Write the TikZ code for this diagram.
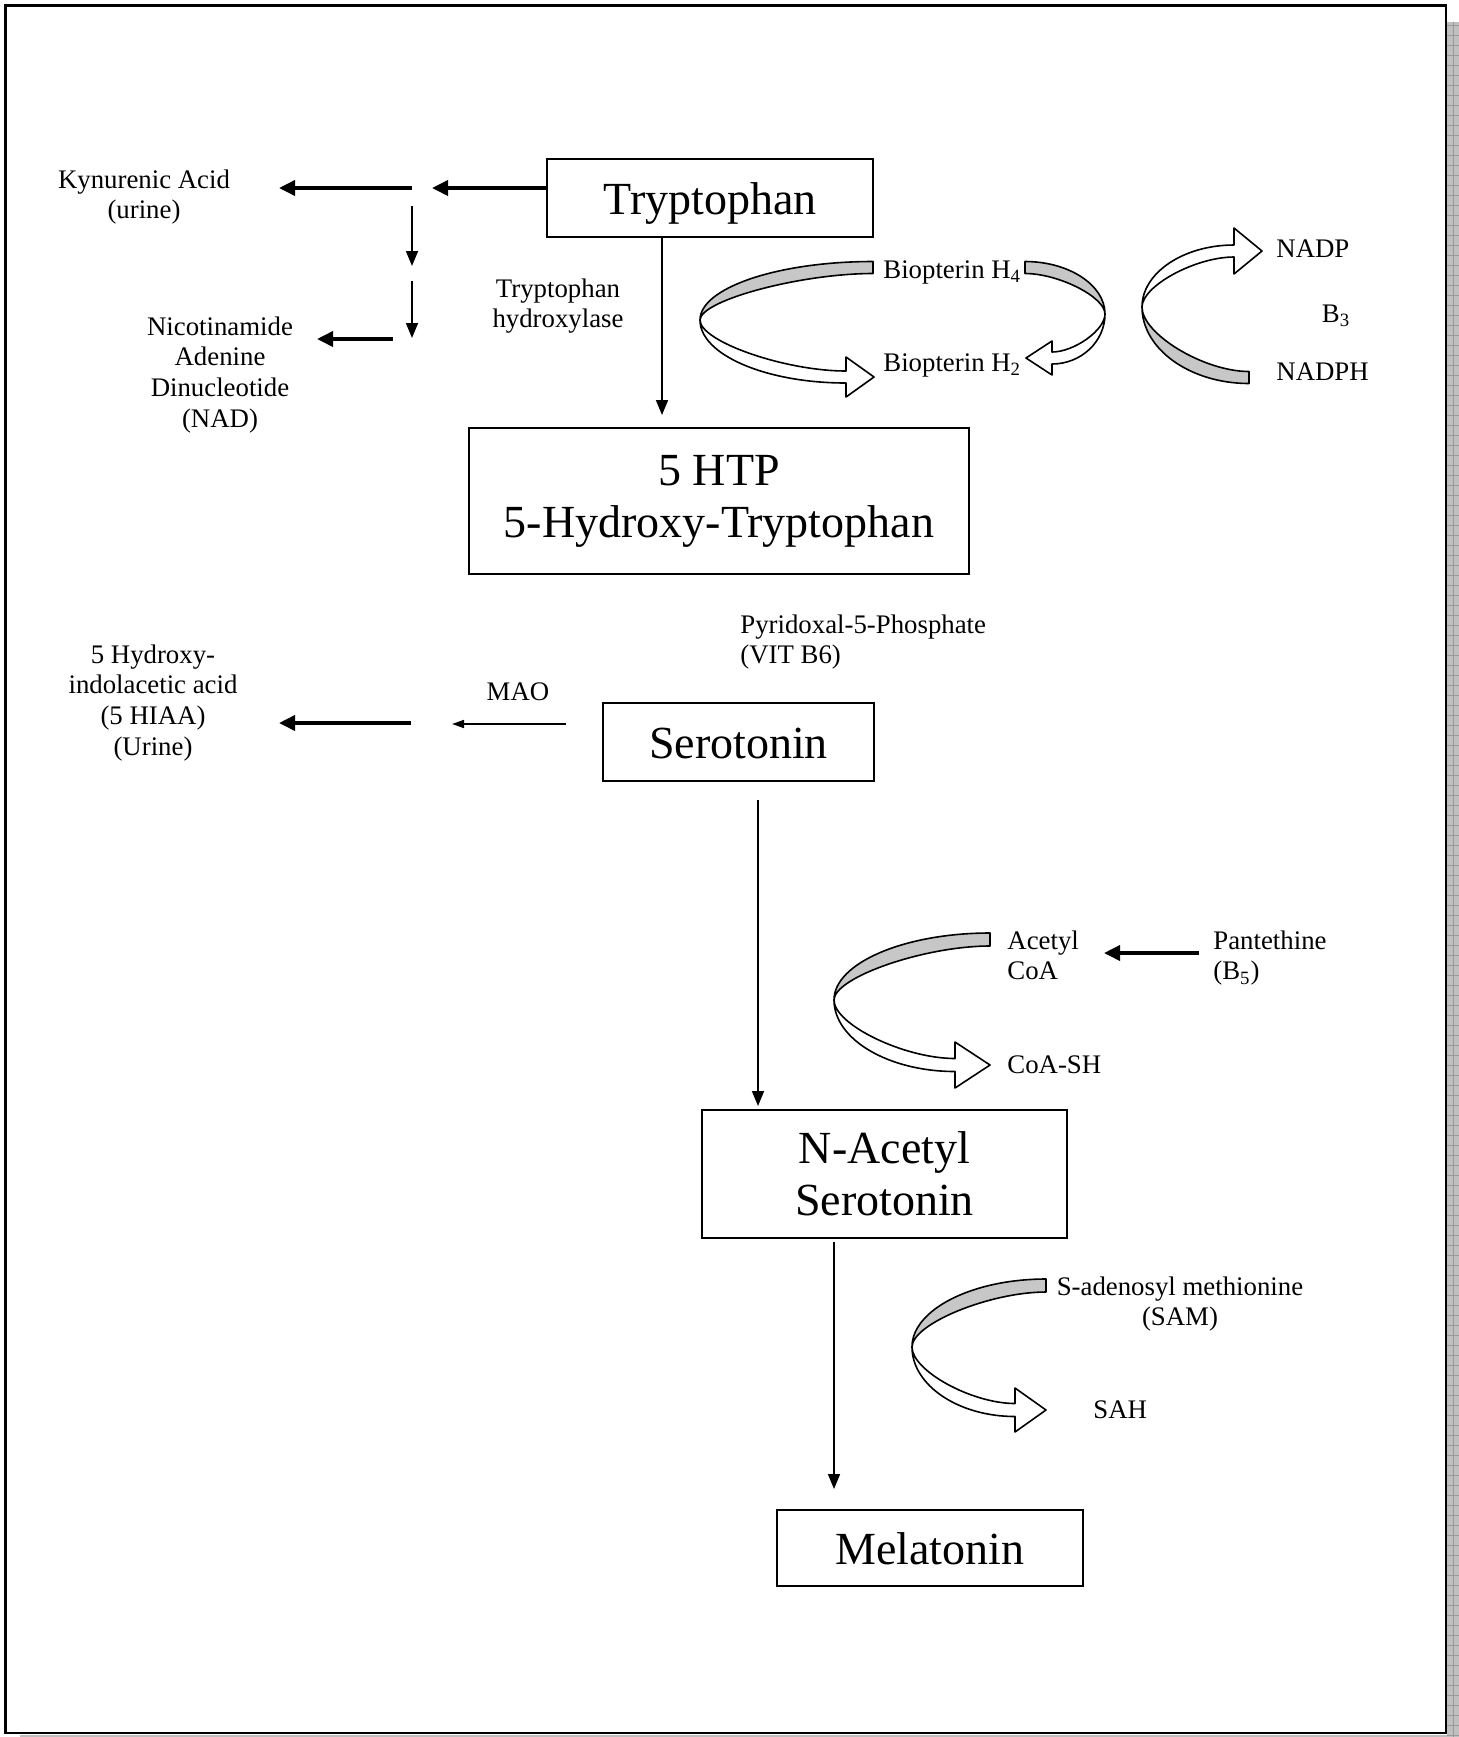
\documentclass[tikz,border=0pt]{standalone}
\usepackage{fontspec}
\setmainfont{Liberation Serif}
\usetikzlibrary{arrows.meta}
\newcommand\smallf{\fontsize{13.4pt}{15.4pt}\selectfont}
\newcommand\bigf{\fontsize{23pt}{26pt}\selectfont}
% curved ribbon arrow: #1 xs, #2 yg, #3 w, #4 xl, #5 ym, #6 xb, #7 ya, #8 xt, #9 h
\newcommand\ribbon[9]{%
  \pgfmathsetmacro\ribS{sign(#5-#2)}%
  \pgfmathsetmacro\ribT{sign(#7-#5)}%
  \pgfmathsetmacro\ribGo{#2-\ribS*#3/2}%
  \pgfmathsetmacro\ribGi{#2+\ribS*#3/2}%
  \pgfmathsetmacro\ribWi{#7-\ribT*#3/2}%
  \pgfmathsetmacro\ribWo{#7+\ribT*#3/2}%
  \pgfmathsetmacro\ribHa{#7-\ribT*#9}%
  \pgfmathsetmacro\ribHb{#7+\ribT*#9}%
  \filldraw[ribgray] (#1,\ribGo) .. controls ({#1+0.55*(#4-#1)},\ribGo) and (#4,{#5+0.55*(\ribGo-#5)}) .. (#4,#5)
     .. controls (#4,{#5+0.42*(\ribGi-#5)}) and ({#1+0.42*(#4-#1)},\ribGi) .. (#1,\ribGi) -- cycle;
  \filldraw[ribwhite] (#4,#5) .. controls (#4,{#5+0.42*(\ribWi-#5)}) and ({#6+0.42*(#4-#6)},\ribWi) .. (#6,\ribWi)
     -- (#6,\ribHa) -- (#8,#7) -- (#6,\ribHb) -- (#6,\ribWo)
     .. controls ({#6+0.55*(#4-#6)},\ribWo) and (#4,{#5+0.55*(\ribWo-#5)}) .. (#4,#5) -- cycle;
}
\tikzset{
  box/.style={draw, line width=1pt, inner sep=0pt, font=\bigf, align=center},
  onebox/.style={box, text height=16pt, text depth=0pt},
  lbl/.style={inner sep=0pt, font=\smallf},
  thinarr/.style={line width=0.8pt, -{Triangle[length=7.5pt,width=6pt]}},
  thickarr/.style={line width=1.8pt, -{Triangle[length=8pt,width=7.5pt]}},
  smallarr/.style={line width=0.8pt, -{Triangle[length=6pt,width=4pt]}},
  ribgray/.style={fill=black!22, draw=black, line width=0.8pt, line join=round},
  ribwhite/.style={fill=white, draw=black, line width=0.8pt, line join=round},
}
\begin{document}
\begin{tikzpicture}[x=0.5pt, y=-0.5pt]
\useasboundingbox (0,0) rectangle (1459,1737);
% page frame and shadow
\fill[black!25] (1447,22) rectangle (1459,1737);
\fill[black!25] (20,1735) rectangle (1459,1737);
\foreach \yy in {25,35,...,1735} \draw[black!40, line width=0.25pt] (1447,\yy) -- (1459,\yy);
\draw[black!40, line width=0.25pt] (1453,22) -- (1453,1737);
\draw[line width=1.2pt] (5.5,5.5) rectangle (1446,1733);

% main boxes
\node[onebox, minimum width=163pt, minimum height=39pt] (trp) at (710,198) {Tryptophan};
\node[box, minimum width=250pt, minimum height=73pt] (htp) at (719,501) {5 HTP\\5-Hydroxy-Tryptophan};
\node[onebox, minimum width=135.5pt, minimum height=39pt] (ser) at (738.5,742) {Serotonin};
\node[box, minimum width=182.5pt, minimum height=64pt] (nac) at (884.5,1174) {N-Acetyl\\Serotonin};
\node[onebox, minimum width=153pt, minimum height=38pt] (mel) at (930,1548) {Melatonin};

% labels (multi-line: base = last line)
\node[lbl, align=center, anchor=base] (kyn) at (144,218.8) {Kynurenic Acid\\(urine)};
\node[lbl, align=center, anchor=base] (nad) at (220,427.4) {Nicotinamide\\Adenine\\Dinucleotide\\(NAD)};
\node[lbl, align=center, anchor=base] (thyd) at (558,327.8) {Tryptophan\\hydroxylase};
\node[lbl, anchor=base west] (bh4) at (883,278) {Biopterin H\textsubscript{4}};
\node[lbl, anchor=base west] (bh2) at (883,371) {Biopterin H\textsubscript{2}};
\node[lbl, anchor=base west] (nadp) at (1276,257) {NADP};
\node[lbl, anchor=base] (b3) at (1336,322) {B\textsubscript{3}};
\node[lbl, anchor=base west] (nadph) at (1276,380) {NADPH};
\node[lbl, align=left, anchor=base west] (pyr) at (740,663.8) {Pyridoxal-5-Phosphate\\(VIT B6)};
\node[lbl, align=center, anchor=base] (hiaa) at (153,755.4) {5 Hydroxy-\\indolacetic acid\\(5 HIAA)\\(Urine)};
\node[lbl, anchor=base] (mao) at (518,700) {MAO};
\node[lbl, align=left, anchor=base west] (acoa) at (1007,979.8) {Acetyl\\CoA};
\node[lbl, align=left, anchor=base west] (pan) at (1213,979.8) {Pantethine\\(B\textsubscript{5})};
\node[lbl, anchor=base west] (coash) at (1007,1073) {CoA-SH};
\node[lbl, align=center, anchor=base] (sam) at (1180,1325.8) {S-adenosyl methionine\\(SAM)};
\node[lbl, anchor=base west] (sah) at (1093,1418) {SAH};

% connector end points
\coordinate (k1) at (432,188);
\coordinate (k2) at (412,188);
\coordinate (k3) at (279,188);
\coordinate (v1) at (412,206);
\coordinate (v2) at (412,266);
\coordinate (v3) at (412,281);
\coordinate (v4) at (412,338);
\coordinate (n1) at (393,339);
\coordinate (n2) at (317,339);
\coordinate (tx) at (662,415);
\coordinate (m1) at (566,724);
\coordinate (m2) at (452,724);
\coordinate (h1) at (411,723);
\coordinate (h2) at (279,723);
\coordinate (s1) at (758,800);
\coordinate (s2) at (758,1106);
\coordinate (p1) at (1199,953);
\coordinate (p2) at (1104,953);
\coordinate (a1) at (834,1242);
\coordinate (a2) at (834,1489);

% connectors
\draw[thickarr] (trp.west |- k1) -- (k1);
\draw[thickarr] (k2) -- (k3);
\draw[thinarr] (v1) -- (v2);
\draw[thinarr] (v3) -- (v4);
\draw[thickarr] (n1) -- (n2);
\draw[thinarr] (trp.south -| tx) -- (tx);
\draw[smallarr] (m1) -- (m2);
\draw[thickarr] (h1) -- (h2);
\draw[thinarr] (s1) -- (s2);
\draw[thickarr] (p1) -- (p2);
\draw[thinarr] (a1) -- (a2);

% curved ribbon arrows
\ribbon{873}{267.5}{12}{700}{320}{846}{377}{874}{20}
\ribbon{1025}{267.5}{12}{1105}{314}{1052}{358}{1026}{17}
\ribbon{1249}{377.5}{12}{1142}{307}{1234}{251}{1262}{23}
\ribbon{990}{939.5}{13}{834}{1000}{955}{1065}{990}{23}
\ribbon{1046}{1285.5}{13}{912}{1347}{1015}{1410}{1046}{22}
\end{tikzpicture}
\end{document}
